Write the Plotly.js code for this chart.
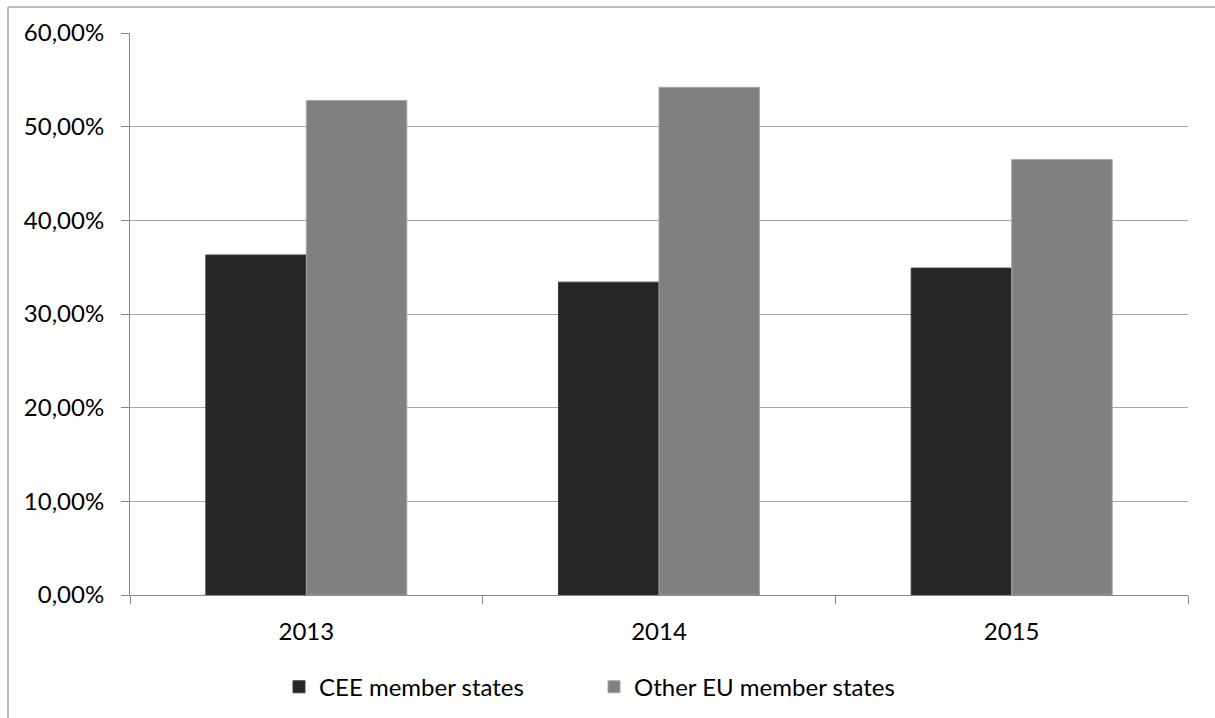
<!DOCTYPE html>
<html>
<head>
<meta charset="utf-8">
<script src="https://cdn.plot.ly/plotly-3.0.1.min.js"></script>
<style>html,body{margin:0;padding:0;background:#fff;}#chart{width:1215px;height:718px;}</style>
</head>
<body>
<div id="chart"></div>
<script>
const years = ['2013', '2014', '2015'];
const ceeValues = [0.363, 0.334, 0.349];
const otherValues = [0.528, 0.542, 0.465];
const seriesNames = ['CEE member states', 'Other EU member states'];

const font = {family: 'Lato, Carlito, "Open Sans", sans-serif', size: 24, color: '#000'};

const data = [
  {type: 'bar', x: years, y: ceeValues, name: seriesNames[0],
   marker: {color: '#262626', line: {color: '#3a3a3a', width: 1}}},
  {type: 'bar', x: years, y: otherValues, name: seriesNames[1],
   marker: {color: '#808080', line: {color: '#a6a6a6', width: 1}}}
];

const layout = {
  width: 1215, height: 718,
  margin: {l: 130, r: 27, t: 33, b: 123, autoexpand: false},
  paper_bgcolor: '#fff', plot_bgcolor: '#fff',
  separators: ', ',
  font: font,
  barmode: 'group', bargap: 0.43, bargroupgap: 0,
  showlegend: true,
  legend: {orientation: 'h', x: (279-130)/1058, xanchor: 'left', y: -0.164, yanchor: 'middle',
           font: font, itemwidth: 30, tracegroupgap: 0, entrywidth: 270, entrywidthmode: 'pixels'},
  xaxis: {type: 'category', showgrid: false, showline: true, linecolor: '#868686', linewidth: 1,
          ticks: 'outside', tickson: 'boundaries', ticklen: 8, tickcolor: '#868686',
          ticklabelstandoff: 15, tickfont: font, zeroline: false},
  yaxis: {range: [0, 0.6], dtick: 0.1, tickformat: '.2%', showgrid: true, gridcolor: '#a6a6a6',
          gridwidth: 1, showline: true, linecolor: '#868686', linewidth: 1, ticks: 'outside',
          ticklen: 8, tickcolor: '#868686', ticklabelstandoff: 12, tickfont: font, zeroline: false},
  shapes: [
    {type: 'line', xref: 'paper', yref: 'paper', x0: (8-130)/1058, x1: 1.1, y0: (595-7)/562, y1: (595-7)/562,
     line: {color: '#a6a6a6', width: 1.5}},
    {type: 'line', xref: 'paper', yref: 'paper', x0: (8-130)/1058, x1: (8-130)/1058, y0: (595-7)/562, y1: -0.3,
     line: {color: '#a6a6a6', width: 1.5}}
  ]
};

Plotly.newPlot('chart', data, layout, {displayModeBar: false, staticPlot: true});
</script>
</body>
</html>
